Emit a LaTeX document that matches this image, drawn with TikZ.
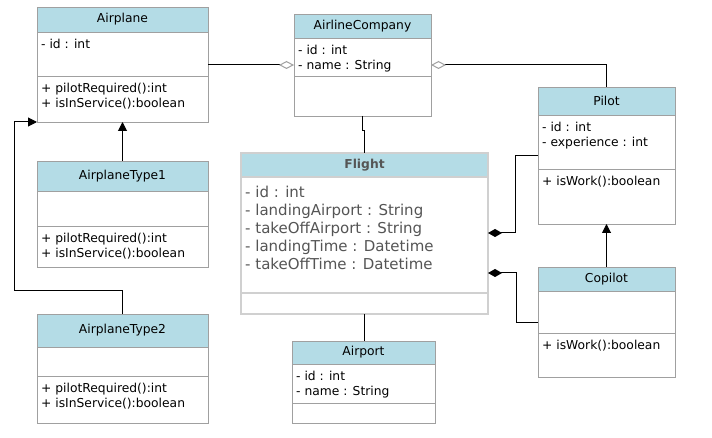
\documentclass[tikz,border=0pt]{standalone}
\usepackage{fontspec}
\setmainfont{DejaVu Sans}
\usetikzlibrary{positioning,arrows.meta}
\definecolor{headblue}{RGB}{180,220,230}
\definecolor{boxgray}{RGB}{160,160,160}
\definecolor{flightgray}{RGB}{208,208,208}
\definecolor{flighttext}{RGB}{85,85,85}

\begin{document}
\begin{tikzpicture}[x=1pt, y=-1pt, node distance=0pt,
font=\fontsize{12.3}{15}\selectfont,
head_style/.style={draw=boxgray, fill=headblue, anchor=north west, outer sep=0pt, inner sep=0pt},
box_style/.style={draw=boxgray, fill=white, outer sep=0pt, inner sep=0pt},
text_style/.style={anchor=north west, align=left, inner xsep=4pt, inner ysep=7pt},
flight_box/.style={draw=flightgray, line width=1.5pt},
flight_text/.style={text_style, font=\fontsize{15}{18}\selectfont, text=flighttext, inner ysep=8.6pt},
edge_style/.style={draw=black, line width=1pt},
aggr_end/.style={edge_style, -{Diamond[open, length=15pt, width=8pt, color=boxgray]}},
aggr_start/.style={edge_style, {Diamond[open, length=15pt, width=8pt, color=boxgray]}-},
comp_style/.style={edge_style, -{Diamond[length=14pt, width=8pt]}},
inherit_style/.style={edge_style, -{Triangle[length=9pt, width=9pt]}}]
\fill[white] (0,0) rectangle (712,438);

% Airplane
\node[head_style, minimum width=171, minimum height=25] (airplane_head) at (37,7) {Airplane};
\node[box_style, minimum width=171, minimum height=44, below=of airplane_head,
  label={[text_style]north west:{- id : int}}] (airplane_attr) {};
\node[box_style, minimum width=171, minimum height=46, below=of airplane_attr,
  label={[text_style]north west:{+ pilotRequired():int\\+ isInService():boolean}}] (airplane_meth) {};

% AirlineCompany
\node[head_style, minimum width=137, minimum height=24] (company_head) at (294,14) {AirlineCompany};
\node[box_style, minimum width=137, minimum height=38, below=of company_head,
  label={[text_style]north west:{- id : int\\- name : String}}] (company_attr) {};
\node[box_style, minimum width=137, minimum height=40, below=of company_attr] (company_meth) {};

% Pilot
\node[head_style, minimum width=137, minimum height=28] (pilot_head) at (538,87) {Pilot};
\node[box_style, minimum width=137, minimum height=54, below=of pilot_head,
  label={[text_style]north west:{- id : int\\- experience : int}}] (pilot_attr) {};
\node[box_style, minimum width=137, minimum height=55, below=of pilot_attr,
  label={[text_style]north west:{+ isWork():boolean}}] (pilot_meth) {};

% Flight
\node[head_style, flight_box, minimum width=247, minimum height=24, text=flighttext,
  font=\fontsize{12.3}{15}\selectfont\bfseries] (flight_head) at (241,153) {Flight};
\node[box_style, flight_box, minimum width=247, minimum height=116, below=of flight_head,
  label={[flight_text]north west:{- id : int\\- landingAirport : String\\- takeOffAirport : String\\- landingTime : Datetime\\- takeOffTime : Datetime}}] (flight_attr) {};
\node[box_style, flight_box, minimum width=247, minimum height=21, below=of flight_attr] (flight_meth) {};

% Copilot
\node[head_style, minimum width=137, minimum height=24] (copilot_head) at (538,267) {Copilot};
\node[box_style, minimum width=137, minimum height=42, below=of copilot_head] (copilot_attr) {};
\node[box_style, minimum width=137, minimum height=44, below=of copilot_attr,
  label={[text_style]north west:{+ isWork():boolean}}] (copilot_meth) {};

% AirplaneType1
\node[head_style, minimum width=171, minimum height=30] (type1_head) at (37,161) {AirplaneType1};
\node[box_style, minimum width=171, minimum height=35, below=of type1_head] (type1_attr) {};
\node[box_style, minimum width=171, minimum height=41, below=of type1_attr,
  label={[text_style]north west:{+ pilotRequired():int\\+ isInService():boolean}}] (type1_meth) {};

% AirplaneType2
\node[head_style, minimum width=171, minimum height=33] (type2_head) at (37,314) {AirplaneType2};
\node[box_style, minimum width=171, minimum height=29, below=of type2_head] (type2_attr) {};
\node[box_style, minimum width=171, minimum height=47, below=of type2_attr,
  label={[text_style]north west:{+ pilotRequired():int\\+ isInService():boolean}}] (type2_meth) {};

% Airport
\node[head_style, minimum width=143, minimum height=23] (airport_head) at (292,341) {Airport};
\node[box_style, minimum width=143, minimum height=39, below=of airport_head,
  label={[text_style]north west:{- id : int\\- name : String}}] (airport_attr) {};
\node[box_style, minimum width=143, minimum height=20, below=of airport_attr] (airport_meth) {};

% connectors
\draw[aggr_end] ([yshift=-11pt]airplane_attr.east) -- ([yshift=-8pt]company_attr.west);
\draw[aggr_start] ([yshift=-8pt]company_attr.east) -| (pilot_head.north);
\draw[edge_style] (company_meth.south) -- ++(0,15) -| (flight_head.north);
\draw[comp_style] ([yshift=-14pt]pilot_attr.west) -- ++(-23,0) |- ([yshift=2pt]flight_attr.east);
\draw[comp_style] ([yshift=-10pt]copilot_attr.west) -- ++(-22,0) |- ([yshift=-38pt]flight_attr.east);
\draw[inherit_style] (copilot_head.north) -- (pilot_meth.south);
\draw[inherit_style] (type1_head.north) -- (airplane_meth.south);
\draw[inherit_style] (type2_head.north) |- ++(-108,-23) |- (airplane_meth.south west);
\draw[edge_style] (flight_meth.south) -- (flight_meth.south |- airport_head.north);
\end{tikzpicture}
\end{document}
